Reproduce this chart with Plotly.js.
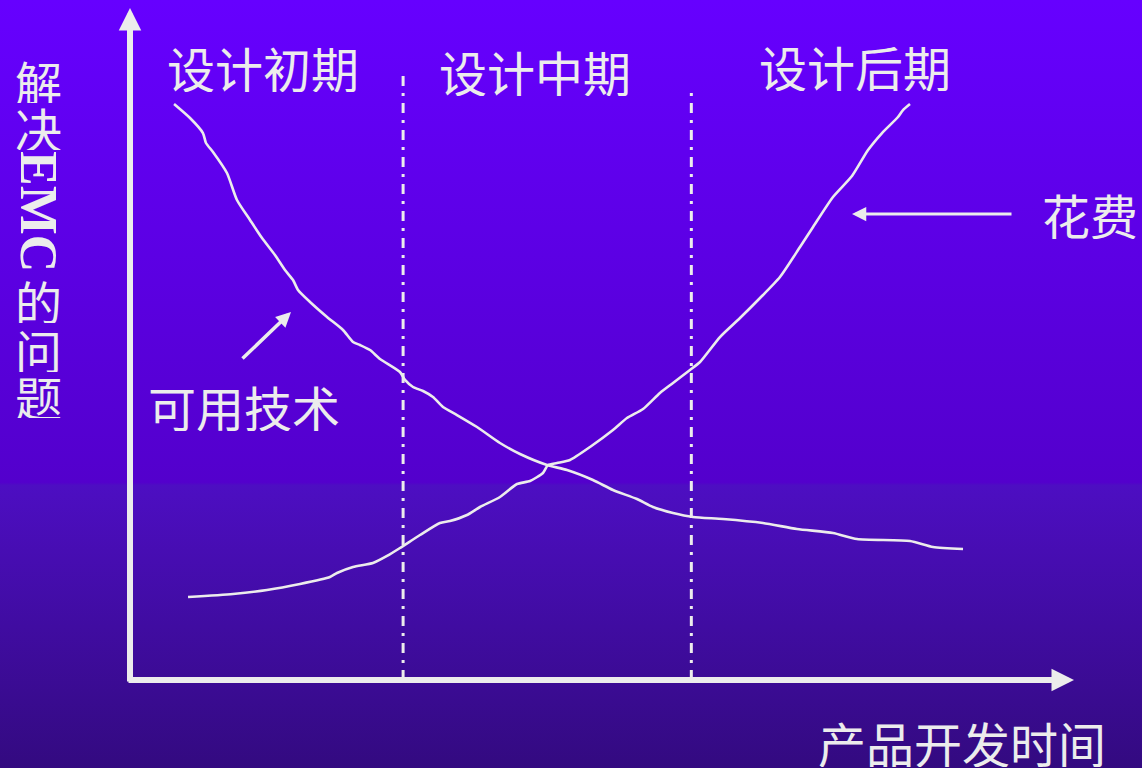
<!DOCTYPE html>
<html><head><meta charset="utf-8">
<script src="https://cdn.plot.ly/plotly-3.0.1.min.js"></script>
<style>
html,body{margin:0;padding:0;overflow:hidden;}
#chart{width:1142px;height:768px;background:linear-gradient(to bottom,#6600ff 0%,#5300cc 62.8%,#4d0ec2 63.2%,#330a80 100%);}
</style></head><body><div id="chart"></div>
<script>
// "可用技术" curve (available techniques, decreasing over time)
const techX = [4.66,6.35,7.72,8.04,8.78,10.26,11.32,12.70,13.97,15.34,16.40,17.25,17.78,19.05,20.85,22.54,23.60,24.34,25.40,26.46,28.57,29.10,29.95,31.01,32.06,33.12,34.60,36.72,39.15,41.27,44.13,46.24,48.99,51.11,53.65,55.34,57.46,59.58,62.75,66.98,70.58,74.39,76.93,82.54,84.97,88.15];
const techY = [85.97,83.88,81.64,80.15,78.81,75.67,71.64,68.66,65.97,63.43,61.19,59.70,58.21,56.42,54.18,52.24,50.45,50.00,49.25,47.91,45.97,44.78,43.73,43.13,42.24,40.75,39.55,37.76,35.37,33.73,32.09,31.34,29.85,28.36,27.01,25.82,24.93,24.33,24.03,23.43,22.54,21.94,21.04,20.75,19.85,19.55];
// "花费" curve (cost, increasing over time)
const costX = [6.14,10.90,14.50,17.99,21.16,21.90,23.60,25.71,27.20,28.57,30.69,32.80,33.86,35.66,37.04,39.15,40.95,42.33,43.70,44.23,45.19,46.56,48.68,51.11,52.59,54.29,56.08,57.46,59.26,60.32,62.43,64.55,66.67,68.78,70.90,72.28,74.39,76.40,78.10,79.58,81.27,81.80,82.54];
const costY = [12.39,12.84,13.43,14.33,15.37,15.97,16.87,17.46,18.51,19.70,21.64,23.43,23.73,24.63,25.82,27.31,29.25,29.70,30.90,32.09,32.39,32.84,34.78,37.31,39.10,40.45,42.84,44.33,46.27,47.46,51.19,54.03,57.01,60.15,64.63,67.61,72.09,75.22,79.10,81.64,84.03,85.07,85.97];
// phase boundaries
const phaseBoundaryX = [28.9, 59.4];
const phaseBoundaryTop = [90.7, 88.5];
const phaseLabels = ['设计初期', '设计中期', '设计后期'];
const yAxisLabelParts = ['解', '决', 'EMC', '的', '问', '题'];
const xAxisLabel = '产品开发时间';
const techLabel = '可用技术';
const costLabel = '花费';

const W = '#ececec';
const CJK = '"Noto Sans CJK SC", "Noto Sans", sans-serif';
// pixel -> paper helpers for placing text/arrows (plot area spans 130..1075 x 10..680)
const PX = X => (X - 130) / 945;
const PY = Y => (680 - Y) / 670;

const traces = [];
phaseBoundaryX.forEach((bx, i) => {
  traces.push({x: [bx, bx], y: [0, phaseBoundaryTop[i]], mode: 'lines', hoverinfo: 'skip',
    line: {color: W, width: 3, dash: '10px,7px,3px,7px'}});
});
traces.push({x: techX, y: techY, mode: 'lines', name: techLabel, line: {color: W, width: 2.6, shape: 'spline', smoothing: 0.6}});
traces.push({x: costX, y: costY, mode: 'lines', name: costLabel, line: {color: W, width: 2.6, shape: 'spline', smoothing: 0.6}});

const ann = [];
function txt(t, X, Y, size, extra) {
  ann.push(Object.assign({text: t, x: PX(X), y: PY(Y), xref: 'paper', yref: 'paper', showarrow: false,
    xanchor: 'center', yanchor: 'middle', height: 50, borderpad: 0,
    font: {family: CJK, size: size, color: W}}, extra || {}));
}
function arrow(x0, y0, x1, y1, w, s) {
  ann.push({x: PX(x1), y: PY(y1), xref: 'paper', yref: 'paper', axref: 'pixel', ayref: 'pixel',
    ax: x0 - x1, ay: y0 - y1,
    text: '', showarrow: true, arrowhead: 2, arrowwidth: w, arrowsize: s, arrowcolor: W});
}
const phaseCenters = [[263, 67], [535, 71], [855, 66]];
phaseLabels.forEach((t, i) => txt(t, phaseCenters[i][0], phaseCenters[i][1], 48));
txt(xAxisLabel, 962, 742, 48);
txt(techLabel, 244, 406, 48);
txt(costLabel, 1090, 214, 48);
const yParts = [80, 127, 211, 300, 349, 395];
yAxisLabelParts.forEach((t, i) => {
  if (t === 'EMC') txt(t, 39, yParts[i], 52, {textangle: 90, height: null,
    font: {family: '"Liberation Serif", serif', size: 52, color: W, weight: 'bold'}});
  else txt(t, 38, yParts[i], 47, {height: 46});
});
// axes arrows
arrow(130, 683, 130, 8, 6, 0.75);
arrow(127, 680, 1074, 680, 6, 0.75);
// pointer arrows
arrow(1013, 214, 852, 214, 3, 0.95);
arrow(241, 360, 291, 312, 3.5, 0.85);

const layout = {
  width: 1142, height: 768,
  margin: {l: 130, r: 67, t: 10, b: 88, pad: 0},
  paper_bgcolor: 'rgba(0,0,0,0)', plot_bgcolor: 'rgba(0,0,0,0)',
  showlegend: false,
  xaxis: {range: [0, 100], visible: false, fixedrange: true},
  yaxis: {range: [0, 100], visible: false, fixedrange: true},
  annotations: ann
};
Plotly.newPlot('chart', traces, layout, {displayModeBar: false, staticPlot: true});
</script></body></html>
